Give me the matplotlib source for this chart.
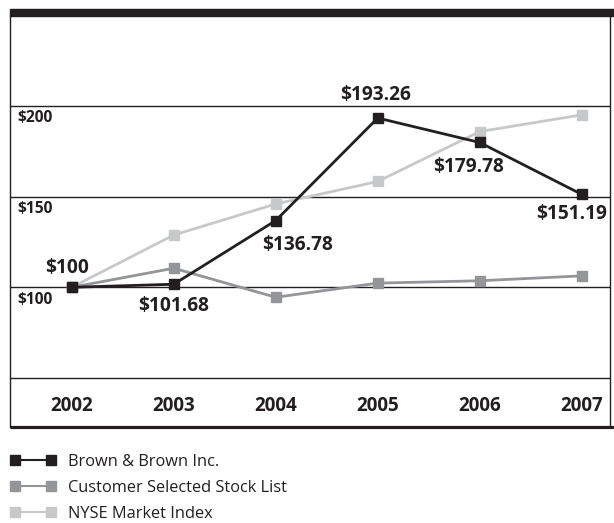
import matplotlib
matplotlib.use("Agg")
import matplotlib.pyplot as plt
from matplotlib.patches import Rectangle
from matplotlib.transforms import blended_transform_factory
import numpy as np

# ---- data -------------------------------------------------------------
years = ["2002", "2003", "2004", "2005", "2006", "2007"]
brown = [100.00, 101.68, 136.78, 193.26, 179.78, 151.19]
customer = [100.0, 110.5, 94.5, 102.3, 103.6, 106.3]
nyse = [100.0, 128.8, 145.9, 158.3, 185.8, 195.0]
series_names = ["Brown & Brown Inc.", "Customer Selected Stock List", "NYSE Market Index"]
grid_values = [200, 150, 100]
grid_labels = ["$200", "$150", "$100"]
brown_labels = ["$100", "$101.68", "$136.78", "$193.26", "$179.78", "$151.19"]

# ---- styling ----------------------------------------------------------
DARK = "#231f20"
MID = "#939598"
LIGHT = "#c7c8ca"
FONT = "Open Sans"
plt.rcParams["font.family"] = [FONT, "DejaVu Sans"]

W, H = 614, 523
fig = plt.figure(figsize=(W / 100, H / 100), dpi=100)


def fx(px):
    return px / W


def fy(px):
    return 1 - px / H


# plot frame: 10..610 px horizontally, 16..427 px vertically
ax = fig.add_axes([fx(10), fy(427), fx(610) - fx(10), fy(16) - fy(427)])
x = np.arange(len(years))
ax.set_xlim(-0.605, 5.277)
ax.set_ylim(23.03, 249.47)
ax.set_xticks([])
ax.set_yticks([])

for side in ["top", "bottom"]:
    ax.spines[side].set_visible(False)
for side in ["left", "right"]:
    ax.spines[side].set_linewidth(1.0)
    ax.spines[side].set_color(DARK)

# heavy rule across the top and bottom
fig.patches.append(Rectangle((fx(10), fy(16)), 1 - fx(10), fy(9) - fy(16),
                             transform=fig.transFigure, color=DARK, zorder=5))
ax.plot([0, 1.007], [0, 0], transform=ax.transAxes, color=DARK, lw=2.3,
        clip_on=False, solid_capstyle="butt", zorder=5)

# horizontal rules
for v in grid_values + [50]:
    ax.axhline(v, color=DARK, lw=1.0, zorder=1)

# value labels on the left, just under each rule
yl = blended_transform_factory(ax.transAxes, ax.transData)
for v, lab in zip(grid_values, grid_labels):
    ax.text(0.012, v - 6.8, lab, transform=yl, ha="left", va="center",
            fontsize=11.2, fontweight="bold", color=DARK)

# year labels below the axis rule
for xi, yr in zip(x, years):
    ax.text(xi, 34.6, yr, ha="center", va="center", fontsize=13.5,
            fontweight="bold", color=DARK)

# series
common = dict(lw=2.0, marker="s", markersize=7.2, solid_joinstyle="miter")
l3, = ax.plot(x, nyse, color=LIGHT, markerfacecolor=LIGHT, markeredgecolor=LIGHT,
              zorder=2, **common)
l2, = ax.plot(x, customer, color=MID, markerfacecolor=MID, markeredgecolor=MID,
              zorder=3, **common)
l1, = ax.plot(x, brown, color=DARK, markerfacecolor=DARK, markeredgecolor=DARK,
              zorder=4, **common)

# Brown & Brown value annotations
offsets = [(-5, 19), (0, -22), (22, -24), (-2, 23), (-11, -25), (-10, -20)]
for xi, v, lab, off in zip(x, brown, brown_labels, offsets):
    ax.annotate(lab, (xi, v), xytext=off, textcoords="offset pixels",
                ha="center", va="center", fontsize=13.8, fontweight="bold",
                color=DARK)

# legend below the chart
leg = fig.legend([l1, l2, l3], series_names, loc="upper left",
                 bbox_to_anchor=(fx(10), fy(454)), frameon=False,
                 fontsize=11.8, numpoints=2, handlelength=2.8,
                 handletextpad=0.75, labelspacing=0.6, borderpad=0,
                 borderaxespad=0)
for t in leg.get_texts():
    t.set_color(DARK)
for h in leg.legend_handles:
    h.set_linewidth(1.5)

fig.savefig("out.png", dpi=100)
